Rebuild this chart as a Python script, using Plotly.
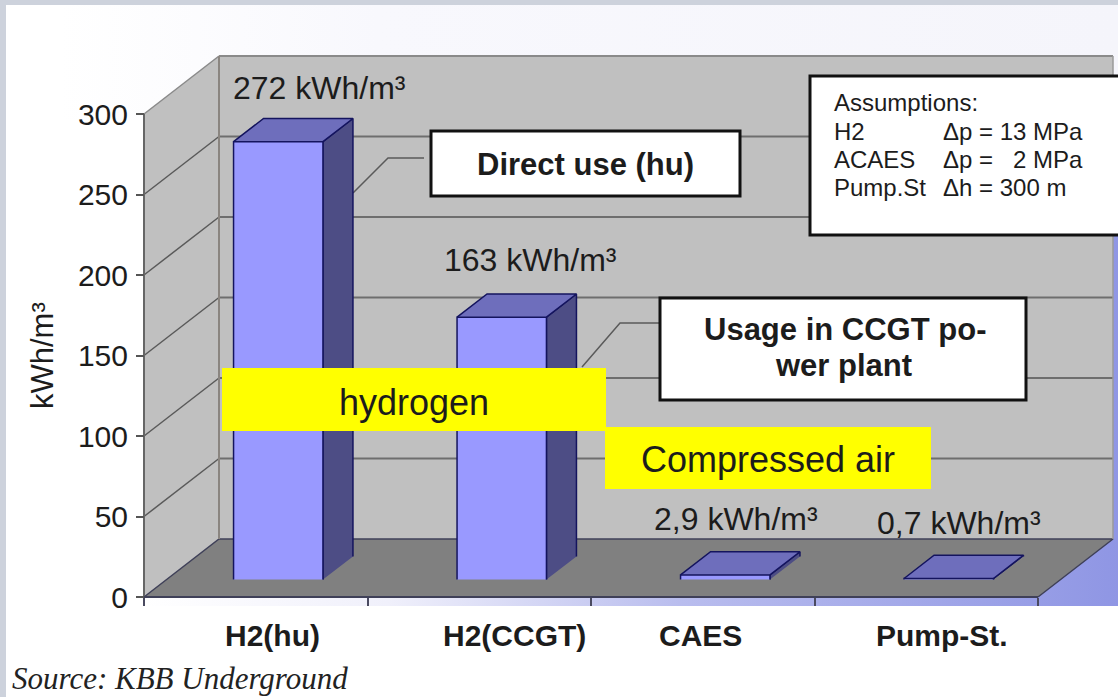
import plotly.graph_objects as go

# ---- data ----
categories = ["H2(hu)", "H2(CCGT)", "CAES", "Pump-St."]
values = [272, 163, 2.9, 0.7]
value_labels = ["272 kWh/m³", "163 kWh/m³", "2,9 kWh/m³", "0,7 kWh/m³"]
y_ticks = [0, 50, 100, 150, 200, 250, 300]

W, H = 1118, 697
# plot frame in pixels
X0, X1, Y0, Y1 = 144, 1038, 597, 114
PX_X = (X1 - X0) / 4
PX_Y = (Y0 - Y1) / 300
DEPTH_PX_X, DEPTH_PX_Y = 75, 58
DX, DY = DEPTH_PX_X / PX_X, DEPTH_PX_Y / PX_Y
BAR_W = 0.4
D_FRONT, D_BACK = 0.3, 0.7

FONT = "Liberation Sans"
TXT = "#1c1c1c"


def proj(x, v, d):
    return x + d * DX, v + d * DY


def px(x, y):
    return (x - X0) / PX_X, (Y0 - y) / PX_Y


fig = go.Figure()


def poly(points, fill=None, line=None, width=1, gradient=None):
    xs = [p[0] for p in points]
    ys = [p[1] for p in points]
    kw = dict(x=xs, y=ys, mode="lines", cliponaxis=False, hoverinfo="skip", showlegend=False)
    if fill or gradient:
        kw["fill"] = "toself"
        if fill:
            kw["fillcolor"] = fill
        if gradient:
            kw["fillgradient"] = gradient
    kw["line"] = dict(color=line or "rgba(0,0,0,0)", width=width)
    fig.add_trace(go.Scatter(**kw))


# background washes
poly([px(*p) for p in [(60, 5), (1118, 5), (1118, 120), (60, 120)]],
     gradient=dict(type="horizontal", colorscale=[[0, "#ffffff"], [0.3, "#f8f8fd"], [1, "#f5f5fb"]]))
poly([px(*p) for p in [(144, 606), (1118, 606), (1118, 225), (144, 225)]],
     gradient=dict(type="horizontal", colorscale=[[0, "#ffffff"], [0.25, "#f0f0fb"], [0.55, "#b9bdee"], [1, "#8f96e4"]]))

WALL = "#c0c0c0"
FLOOR = "#808080"
GRID = "#6e6e6e"
# side wall, back wall, floor
poly([proj(0, 0, 0), proj(0, 300, 0), proj(0, 300, 1), proj(0, 0, 1)], fill=WALL)
poly([proj(0, 0, 1), proj(0, 300, 1), proj(4, 300, 1), proj(4, 0, 1)], fill=WALL)
poly([proj(0, 0, 0), proj(0, 0, 1), proj(4, 0, 1), proj(4, 0, 0)], fill=FLOOR, line="#3f4058", width=1.5)
# gridlines
for v in y_ticks[1:]:
    a, b, c = proj(0, v, 0), proj(0, v, 1), proj(4, v, 1)
    poly([a, b], line="#5a5a5a" if v < 300 else "#8a8a8a", width=1.5)
    poly([b, c], line=GRID if v < 300 else "#8a8a8a", width=2)
poly([proj(0, 0, 1), proj(0, 300, 1)], line="#8a8580", width=2)
poly([proj(4, 0, 1), proj(4, 300, 1)], line="#9a9a9a", width=1.5)

# axis lines
poly([(0, 0), (0, 300)], line="#666666", width=2)
poly([(0, 0), (4, 0)], line="#3f4058", width=2)

# leader lines
poly([px(353, 193), px(388, 158), px(424, 158)], line="#5a5a5a", width=1.5)
poly([px(582, 367), px(620, 323), px(664, 323)], line="#5a5a5a", width=1.5)

# bars
EDGE = "#14145e"
for i, v in enumerate(values):
    l = i + 0.5 - BAR_W / 2
    r = i + 0.5 + BAR_W / 2
    poly([proj(r, 0, D_FRONT), proj(r, v, D_FRONT), proj(r, v, D_BACK), proj(r, 0, D_BACK)],
         fill="#4d4d85", line=EDGE, width=1.5)
    poly([proj(l, v, D_FRONT), proj(l, v, D_BACK), proj(r, v, D_BACK), proj(r, v, D_FRONT)],
         fill="#6e6ebc", line=EDGE, width=1.5)
    poly([proj(l, 0, D_FRONT), proj(l, v, D_FRONT), proj(r, v, D_FRONT), proj(r, 0, D_FRONT)],
         fill="#9999ff", line=EDGE, width=1.5)


def rect(x0, y0, x1, y1, fill, line=None, width=0):
    return dict(type="rect", xref="paper", yref="paper", x0=x0 / W, x1=x1 / W,
                y0=1 - y0 / H, y1=1 - y1 / H, fillcolor=fill, layer="above",
                line=dict(color=line or "rgba(0,0,0,0)", width=width))


shapes = [
    rect(0, 0, W, 5, "#cdd2dc"),
    rect(0, 0, 6, H, "#cdd2dc"),
    rect(431, 131, 740, 196, "#ffffff", "#111111", 3),
    rect(660, 298, 1026, 400, "#ffffff", "#111111", 3),
    rect(810, 76, 1130, 235, "#ffffff", "#111111", 3),
    rect(605, 427, 931, 489, "#ffff00"),
    rect(222, 368, 606, 431, "#ffff00"),
]


def ann(text, x, y, size, bold=False, anchor="center", family=FONT, italic=False, color=TXT, angle=0):
    t = f"<b>{text}</b>" if bold else text
    if italic:
        t = f"<i>{t}</i>"
    return dict(text=t, x=x / W, y=1 - y / H, xref="paper", yref="paper", xanchor=anchor, textangle=angle,
                yanchor="middle", showarrow=False, font=dict(family=family, size=size, color=color))


annotations = [
    ann(value_labels[0], 319, 88, 32),
    ann(value_labels[1], 530, 260, 32),
    ann(value_labels[2], 736, 519, 32),
    ann(value_labels[3], 959, 523, 32),
    ann(categories[0], 272, 635, 30, True),
    ann(categories[1], 514, 635, 30, True),
    ann(categories[2], 700, 635, 30, True),
    ann(categories[3], 942, 635, 30, True),
    ann("Direct use (hu)", 585, 165, 31, True),
    ann("Usage in CCGT po-", 845, 329, 31, True),
    ann("wer plant", 844, 365, 31, True),
    ann("hydrogen", 414, 402, 36),
    ann("Compressed air", 768, 460, 36),
    ann("Assumptions:", 832, 102, 24, anchor="left"),
    ann("H2", 832, 131, 24, anchor="left"),
    ann("ACAES", 832, 159, 24, anchor="left"),
    ann("Pump.St", 832, 187, 24, anchor="left"),
    ann("Δp = 13 MPa", 941, 131, 24, anchor="left"),
    ann("Δp =&nbsp;&nbsp; 2 MPa", 941, 159, 24, anchor="left"),
    ann("Δh = 300 m", 941, 187, 24, anchor="left"),
    ann("Source: KBB Underground", 10, 678, 31, anchor="left", family="Liberation Serif", italic=True, color="#222222"),
    ann("kWh/m³", 42, 356, 31, angle=-90),
]

fig.update_layout(
    width=W, height=H, autosize=False,
    margin=dict(l=0, r=0, t=0, b=0),
    paper_bgcolor="#ffffff", plot_bgcolor="rgba(0,0,0,0)",
    showlegend=False, shapes=shapes, annotations=annotations,
    xaxis=dict(domain=[0, 1], range=[px(0, 0)[0], px(W, 0)[0]], tickvals=[0, 1, 2, 3, 4], showticklabels=False,
               anchor="free", position=1 - Y0 / H,
               ticks="outside", ticklen=8, tickwidth=2, tickcolor="#4a4a60",
               showline=False, showgrid=False, zeroline=False),
    yaxis=dict(domain=[0, 1], range=[px(0, H)[1], px(0, 0)[1]], tickvals=y_ticks,
               anchor="free", position=X0 / W,
               ticks="outside", ticklen=8, tickwidth=2, tickcolor="#555555",
               ticklabelstandoff=2,
               tickfont=dict(family=FONT, size=30, color=TXT),
               showline=False, showgrid=False, zeroline=False),
)
fig.write_html("out.html", config={"displayModeBar": False},
               post_script="document.body.style.margin='0';document.documentElement.style.overflow='hidden';")
